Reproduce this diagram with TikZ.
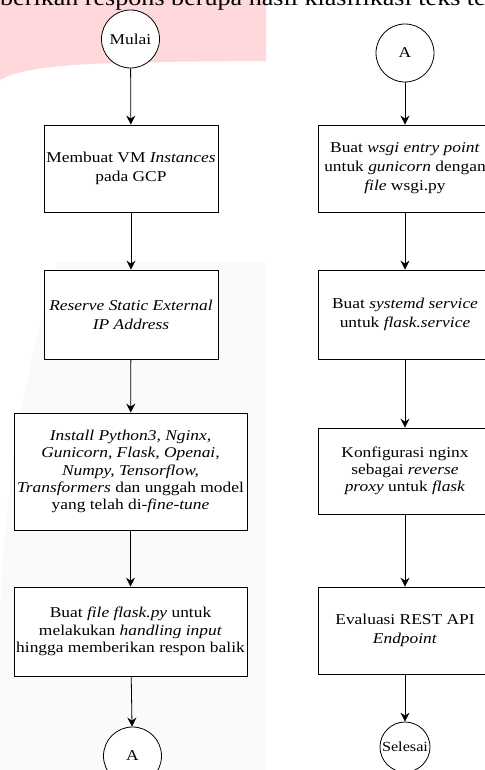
\documentclass[tikz,border=0pt]{standalone}
\usepackage{fontspec}
\setmainfont[FakeStretch=1.16]{Liberation Serif}
\usepackage{tikz}
\usetikzlibrary{positioning}
\usetikzlibrary{arrows.meta,shapes}
\definecolor{wmpink}{RGB}{255,216,219}
\tikzstyle{terminal}=[circle,draw,fill=white,line width=0.8bp,minimum size=58bp,inner sep=0pt,font=\fontsize{15bp}{19bp}\selectfont]
\tikzstyle{smallterminal}=[circle,draw,fill=white,line width=0.8bp,minimum size=50bp,inner sep=0pt,font=\fontsize{14bp}{19bp}\selectfont]
\tikzstyle{process}=[rectangle,draw,fill=white,line width=0.8bp,align=center,inner sep=0.5bp,font=\fontsize{15bp}{19bp}\selectfont]
\tikzstyle{tightprocess}=[process,font=\fontsize{15bp}{17.3bp}\selectfont]
\tikzstyle{edge} = [draw,line width=0.8bp,-{Stealth[length=9bp,width=9bp,inset=3bp]}]

\begin{document}
\begin{tikzpicture}[x=1bp,y=-1bp]
    % page area
    \useasboundingbox (0,0) rectangle (485,770);
    \clip (0,0) rectangle (485,770);
    % background marks of the page
    \fill[wmpink] (0,0) -- (266,0) -- (266,61) .. controls (120,62) and (30,62) .. (0,80) -- cycle;
    \fill[black!2] (266,262) -- (58,262) .. controls (20,380) and (0,520) .. (0,640) -- (0,770) -- (266,770) -- cycle;
    \node[anchor=base east,inner sep=0pt,font=\fontsize{22.5bp}{26bp}\selectfont] (header) at (486,5.5) {berikan respons berupa hasil klasifikasi teks te};

    % left column
    \node[terminal] (mulai) at (130.5,39) {Mulai};
    \node[process,minimum width=174bp,minimum height=87bp] (vm) at (131,168.5) {Membuat VM \textit{Instances}\\pada GCP};
    \node[process,minimum width=174bp,minimum height=89bp] (ip) at (131,314.5) {\textit{Reserve Static External}\\\textit{IP Address}};
    \node[tightprocess,minimum width=233bp,minimum height=117bp] (install) at (130.5,471.5) {\textit{Install Python3, Nginx,}\\\textit{Gunicorn, Flask, Openai,}\\\textit{Numpy, Tensorflow,}\\\textit{Transformers} dan unggah model\\yang telah di-\textit{fine-tune}};
    \node[tightprocess,minimum width=233bp,minimum height=89bp] (flaskpy) at (130.5,631.5) {Buat \textit{file flask.py} untuk\\melakukan \textit{handling input}\\hingga memberikan respon balik};
    \node[terminal] (aout) at (132.5,756) {A};

    % right column
    \node[terminal] (ain) at (405,53) {A};
    \node[process,minimum width=174bp,minimum height=87bp] (wsgi) at (405,168.5) {Buat \textit{wsgi entry point}\\untuk \textit{gunicorn} dengan\\\textit{file} wsgi.py};
    \node[process,minimum width=174bp,minimum height=89bp] (systemd) at (405,314.5) {Buat \textit{systemd service}\\untuk \textit{flask.service}};
    \node[tightprocess,minimum width=174bp,minimum height=86bp] (nginx) at (405,471) {Konfigurasi nginx\\sebagai \textit{reverse}\\\textit{proxy} untuk \textit{flask}};
    \node[process,minimum width=174bp,minimum height=87bp] (eval) at (405,630.5) {Evaluasi REST API\\\textit{Endpoint}};
    \node[smallterminal] (selesai) at (405,747) {Selesai};

    % Connect the steps
    \foreach \source/\dest in {mulai/vm, vm/ip, ip/install, install/flaskpy, flaskpy/aout, ain/wsgi, wsgi/systemd, systemd/nginx, nginx/eval, eval/selesai}
        \path[edge] (\source) -- (\dest);
\end{tikzpicture}
\end{document}
